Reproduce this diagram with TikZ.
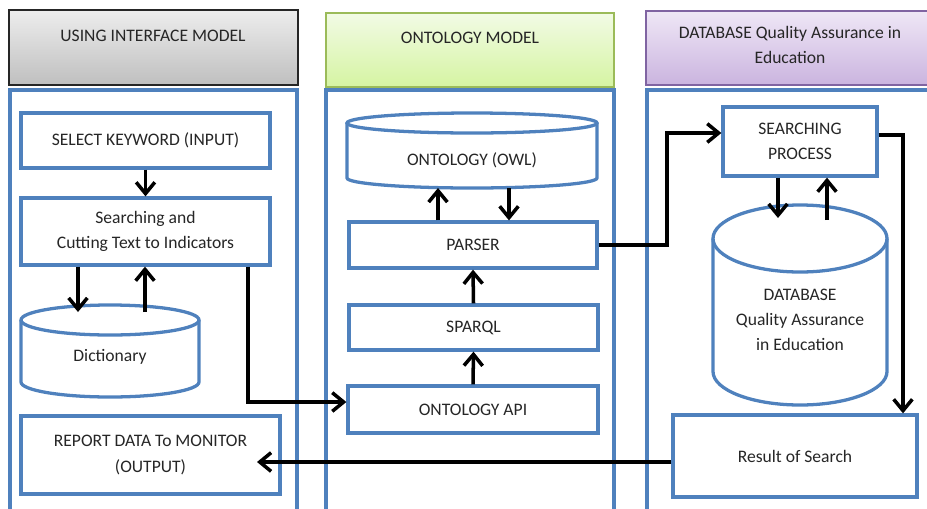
\documentclass[tikz,border=0pt]{standalone}
\usepackage{fontspec}
\setmainfont{Carlito}
\usepackage{xcolor}
\usepackage{tikz}
\usetikzlibrary{arrows.meta,positioning,calc}
\definecolor{frameblue}{HTML}{4F81BD}
\definecolor{hdgreen}{HTML}{9BBB59}
\definecolor{hdpurple}{HTML}{8064A2}
\definecolor{greytop}{HTML}{EDEDED}
\definecolor{greybot}{HTML}{BFBFBF}
\definecolor{limetop}{HTML}{F2FBE5}
\definecolor{limebot}{HTML}{D5F4A2}
\definecolor{lilactop}{HTML}{EFE7F6}
\definecolor{lilacbot}{HTML}{CAB4DF}
\tikzset{
  colframe/.style={draw=frameblue, line width=2.8pt},
  box/.style={rectangle, draw=frameblue, line width=2.8pt, fill=white, inner sep=0pt,
    align=center, text=black!85, font=\fontsize{15}{21.5}\selectfont},
  cylbox/.style={rectangle, draw=none, inner sep=0pt},
  cylline/.style={draw=frameblue, line width=2.8pt},
  cyltext/.style={align=center, text=black!85, font=\fontsize{15}{21.5}\selectfont},
  hdgray/.style={rectangle, draw=black!85, line width=1.6pt, inner sep=0pt,
    top color=greytop, bottom color=greybot},
  hdlime/.style={rectangle, draw=hdgreen, line width=1.6pt, inner sep=0pt,
    top color=limetop, bottom color=limebot},
  hdlilac/.style={rectangle, draw=hdpurple, line width=1.6pt, inner sep=0pt,
    top color=lilactop, bottom color=lilacbot},
  hdtext/.style={align=center, text=black!85, font=\fontsize{15}{21.5}\selectfont},
  arr/.style={-{Straight Barb[length=3.4mm,width=5.6mm]}, line width=3pt},
}

\begin{document}
\begin{tikzpicture}[x=0.3mm, y=-0.3mm]
  \useasboundingbox (0,0) rectangle (927,508);
  \clip (0,0) rectangle (927,508);

  % headers
  \node[hdgray, minimum width=86.7mm, minimum height=22.5mm] (hd1) at (153.5,47.5) {};
  \node[hdlime, minimum width=86.4mm, minimum height=22.2mm] (hd2) at (470,50) {};
  \node[hdlilac, minimum width=86.7mm, minimum height=22.2mm] (hd3) at (790.5,48) {};
  \node[hdtext] (hd1t) at (153,36) {USING INTERFACE MODEL};
  \node[hdtext] (hd2t) at (470,38) {ONTOLOGY MODEL};
  \node[hdtext] (hd3t) at (790,45) {DATABASE Quality Assurance in\\Education};

  % column frames
  \draw[colframe] (10,90) rectangle (297,520);
  \draw[colframe] (326,90) rectangle (614,520);
  \draw[colframe] (647,90) rectangle (940,520);

  % interface model
  \node[box, minimum width=74.7mm, minimum height=16.5mm] (kw) at (145.5,140.5) {SELECT KEYWORD (INPUT)};
  \node[box, minimum width=74.7mm, minimum height=20.1mm] (cut) at (145.5,231.5) {Searching and\\Cutting Text to Indicators};
  \node[box, minimum width=77.7mm, minimum height=23.4mm] (rep) at (150.5,455) {REPORT DATA To MONITOR\\(OUTPUT)};
  \node[cylbox, minimum width=53.4mm, minimum height=27.6mm] (dict) at (110,351) {};
  \draw[cylline] (21,320) -- (21,382) arc[start angle=180, end angle=0, x radius=89, y radius=15] -- (199,320);
  \draw[cylline] (110,320) ellipse[x radius=89, y radius=15];
  \node[cyltext] (dictt) at (110,357) {Dictionary};

  % ontology model
  \node[cylbox, minimum width=75mm, minimum height=22.5mm] (owl) at (472,150.5) {};
  \draw[cylline] (347,123) -- (347,178) arc[start angle=180, end angle=0, x radius=125, y radius=10] -- (597,123);
  \draw[cylline] (472,123) ellipse[x radius=125, y radius=10];
  \node[cyltext] (owlt) at (472,160) {ONTOLOGY (OWL)};
  \node[box, minimum width=74.4mm, minimum height=13.8mm] (par) at (473,245) {PARSER};
  \node[box, minimum width=74.7mm, minimum height=13.5mm] (spq) at (473.5,327.5) {SPARQL};
  \node[box, minimum width=75mm, minimum height=14.1mm] (api) at (473,409.5) {ONTOLOGY API};

  % database
  \node[box, minimum width=46.2mm, minimum height=20.7mm] (sp) at (800,141.5) {SEARCHING\\PROCESS};
  \node[cylbox, minimum width=52.2mm, minimum height=60mm] (db) at (800,305) {};
  \draw[cylline] (713,238.5) -- (713,371.5) arc[start angle=180, end angle=0, x radius=87, y radius=33.5] -- (887,238.5);
  \draw[cylline] (800,238.5) ellipse[x radius=87, y radius=33.5];
  \node[cyltext] (dbt) at (800,320) {DATABASE\\Quality Assurance\\in Education};
  \node[box, minimum width=73.2mm, minimum height=24.6mm] (res) at (795,456) {Result of Search};

  % connectors
  \coordinate (dictin) at (78,312);
  \coordinate (dictout) at (145,312);
  \coordinate (cutapi) at (248,402);
  \coordinate (owlup) at (438,188);
  \coordinate (owldn) at (509,188);
  \coordinate (bend1) at (667,133);
  \coordinate (dbin) at (778,218);
  \coordinate (dbout) at (827,220);
  \coordinate (bend2) at (903,135);
  \coordinate (repin) at (257,462);

  \draw[arr] (kw.south) -- (cut.north);
  \draw[arr] (cut.south -| dictin) -- (dictin);
  \draw[arr] (dictout) -- (cut.south -| dictout);
  \draw[arr] (cut.south -| cutapi) -- (cutapi) -- (api.west |- cutapi);
  \draw[arr] (par.north -| owlup) -- (owlup);
  \draw[arr] (owldn) -- (par.north -| owldn);
  \draw[arr] (spq.north) -- (par.south);
  \draw[arr] (api.north) -- (spq.south);
  \draw[arr] (par.east) -| (bend1) -- (sp.west |- bend1);
  \draw[arr] (sp.south -| dbin) -- (dbin);
  \draw[arr] (dbout) -- (sp.south -| dbout);
  \draw[arr] (sp.east |- bend2) -- (bend2) -- (bend2 |- res.north);
  \draw[arr] (res.west |- repin) -- (repin);
\end{tikzpicture}
\end{document}
